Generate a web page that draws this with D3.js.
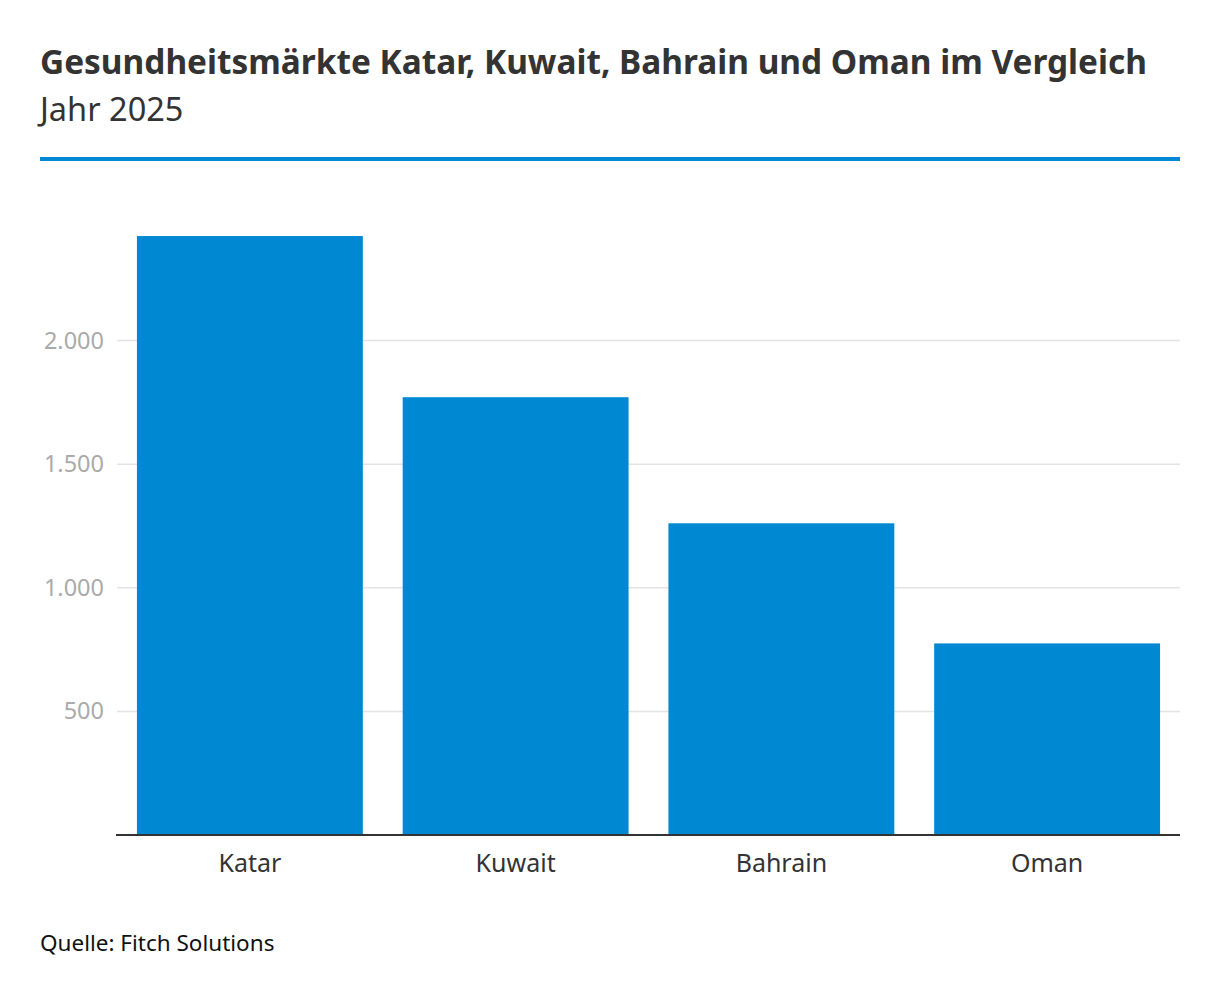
<!DOCTYPE html>
<html>
<head>
<meta charset="utf-8">
<script src="https://cdn.jsdelivr.net/npm/d3@7"></script>
<style>
  body { margin: 0; background: #fff; }
  text { font-family: "Noto Sans", sans-serif; }
</style>
</head>
<body>
<div id="chart"></div>
<script>
// Data
const countries = ["Katar", "Kuwait", "Bahrain", "Oman"];
const values = [2423, 1771, 1261, 775];
const yTicks = [500, 1000, 1500, 2000];

const width = 1220, height = 1000;
const margin = {top: 217, right: 40, bottom: 165, left: 117};

const svg = d3.select("#chart")
    .append("svg")
    .attr("width", width)
    .attr("height", height);

// Title block
svg.append("text")
    .attr("x", 40)
    .attr("y", 74)
    .style("font-size", "33.4px")
    .style("font-weight", "bold")
    .attr("fill", "#333")
    .text("Gesundheitsmärkte Katar, Kuwait, Bahrain und Oman im Vergleich");

svg.append("text")
    .attr("x", 40)
    .attr("y", 121)
    .style("font-size", "32.5px")
    .attr("fill", "#333")
    .text("Jahr 2025");

svg.append("rect")
    .attr("x", 40)
    .attr("y", 157)
    .attr("width", 1140)
    .attr("height", 4)
    .attr("fill", "#0089d2");

// Scales
const x = d3.scaleBand()
    .domain(countries)
    .range([margin.left, width - margin.right])
    .paddingInner(0.15)
    .paddingOuter(0.075);

const y = d3.scaleLinear()
    .domain([0, 2500])
    .range([height - margin.bottom, margin.top]);

// Gridlines
svg.append("g")
    .selectAll("line")
    .data(yTicks)
    .enter().append("line")
    .attr("x1", margin.left)
    .attr("x2", width - margin.right)
    .attr("y1", d => y(d))
    .attr("y2", d => y(d))
    .attr("stroke", "#e3e3e3")
    .attr("stroke-width", 1.5);

// Y axis labels
const yAxis = svg.append("g")
    .attr("transform", `translate(${margin.left - 13},0)`)
    .call(d3.axisLeft(y).tickValues(yTicks).tickSize(0)
        .tickFormat(d => d3.format(",")(d).replace(/,/g, ".")));
yAxis.select(".domain").remove();
yAxis.selectAll("text")
    .attr("x", 0)
    .style("font-size", "23.5px")
    .style("font-family", "Noto Sans, sans-serif")
    .attr("fill", "#aaa");

// Bars
svg.append("g")
    .selectAll("rect")
    .data(values)
    .enter().append("rect")
    .attr("x", (d, i) => x(countries[i]))
    .attr("width", x.bandwidth())
    .attr("y", d => y(d))
    .attr("height", d => y(0) - y(d))
    .attr("fill", "#0089d2");

// Baseline + x labels
const xAxis = svg.append("g")
    .attr("transform", `translate(0,${y(0)})`)
    .call(d3.axisBottom(x).tickSize(0).tickSizeOuter(0));
xAxis.select(".domain")
    .attr("stroke", "#333")
    .attr("stroke-width", 2)
    .attr("d", `M${margin.left - 1},0H${width - margin.right}`);
xAxis.selectAll("text")
    .attr("y", 0)
    .attr("dy", "37px")
    .style("font-size", "25px")
    .style("font-family", "Noto Sans, sans-serif")
    .attr("fill", "#333");

// Source
svg.append("text")
    .attr("x", 40)
    .attr("y", 951)
    .style("font-size", "22.5px")
    .attr("fill", "#111")
    .text("Quelle: Fitch Solutions");
</script>
</body>
</html>
